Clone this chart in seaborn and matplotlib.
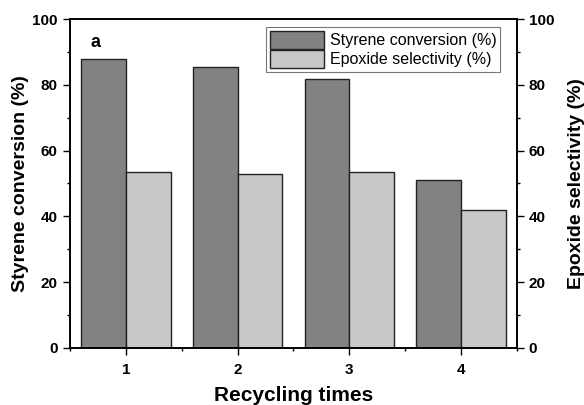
import numpy as np
import pandas as pd
import matplotlib.pyplot as plt
import seaborn as sns
from matplotlib.ticker import MultipleLocator

cycles = ['1', '2', '3', '4']
conversion = [87.7, 85.3, 81.9, 51.2]
selectivity = [53.4, 52.9, 53.4, 41.8]
series_names = ['Styrene conversion (%)', 'Epoxide selectivity (%)']

df = pd.DataFrame({
    'cycle': cycles * 2,
    'value': conversion + selectivity,
    'series': [series_names[0]] * 4 + [series_names[1]] * 4,
})

sns.set_style('ticks')
plt.rcParams['font.family'] = ['Liberation Sans', 'DejaVu Sans']
plt.rcParams['text.color'] = 'black'
plt.rcParams['axes.labelcolor'] = 'black'
plt.rcParams['xtick.color'] = 'black'
plt.rcParams['ytick.color'] = 'black'

fig = plt.figure(figsize=(5.84, 4.05), dpi=100)
ax = fig.add_axes([0.12, 0.141, 0.765, 0.812])

sns.barplot(data=df, x='cycle', y='value', hue='series', order=cycles,
            hue_order=series_names, palette=['#828282', '#c8c8c8'],
            width=0.8, edgecolor='#222222', linewidth=1.0, saturation=1,
            ax=ax)

ax.set_xlim(-0.5, 3.5)
ax.set_ylim(0, 100)
ax.yaxis.set_major_locator(MultipleLocator(20))
ax.yaxis.set_minor_locator(MultipleLocator(10))
ax.set_xticks(np.arange(-0.5, 3.6, 1.0), minor=True)
ax.tick_params(axis='both', which='major', length=5, width=1, direction='out',
               labelsize=11, pad=4)
ax.tick_params(axis='both', which='minor', length=2.5, width=1, direction='out')
ax.tick_params(axis='x', which='major', pad=6)
for lab in ax.get_xticklabels() + ax.get_yticklabels():
    lab.set_fontweight('bold')
ax.set_xlabel('Recycling times', fontsize=15, fontweight='bold', labelpad=6)
ax.set_ylabel('Styrene conversion (%)', fontsize=14, fontweight='bold',
              labelpad=2)
for sp in ax.spines.values():
    sp.set_visible(True)
    sp.set_linewidth(1.2)
    sp.set_color('black')

ax2 = ax.twinx()
ax2.set_ylim(0, 100)
ax2.yaxis.set_major_locator(MultipleLocator(20))
ax2.yaxis.set_minor_locator(MultipleLocator(10))
ax2.tick_params(axis='y', which='major', length=5, width=1, direction='out',
                labelsize=11)
ax2.tick_params(axis='y', which='minor', length=2.5, width=1, direction='out')
for lab in ax2.get_yticklabels():
    lab.set_fontweight('bold')
ax2.set_ylabel('Epoxide selectivity (%)', fontsize=14, fontweight='bold',
               labelpad=10)
for sp in ax2.spines.values():
    sp.set_linewidth(1.2)
    sp.set_color('black')

ax.text(-0.32, 93, 'a', fontsize=13, fontweight='bold', va='center')

leg = ax.legend(loc='upper right', bbox_to_anchor=(0.963, 0.975), fontsize=11.5,
                frameon=True, fancybox=False, edgecolor='#555555',
                handlelength=3.4, handleheight=1.3, handletextpad=0.35,
                borderpad=0.25, labelspacing=0.1, borderaxespad=0)
leg.get_frame().set_linewidth(0.8)

fig.savefig('out.png', dpi=100)
